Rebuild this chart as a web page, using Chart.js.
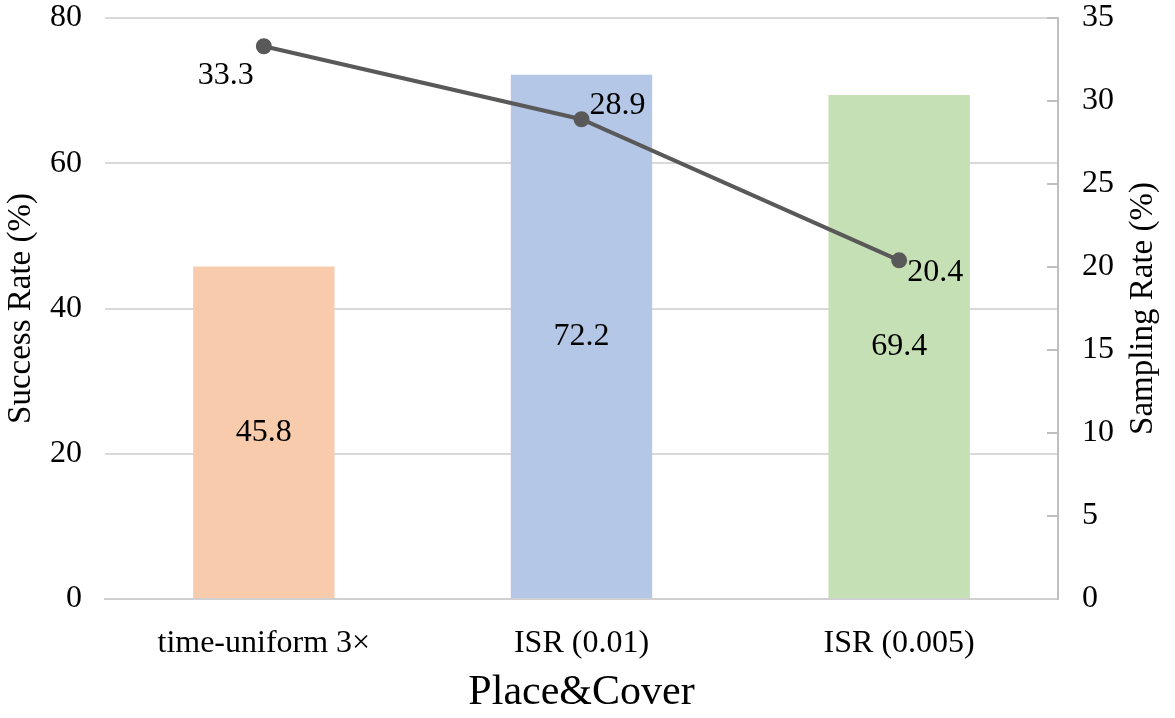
<!DOCTYPE html>
<html>
<head>
<meta charset="utf-8">
<script src="https://cdn.jsdelivr.net/npm/chart.js@4/dist/chart.umd.min.js"></script>
<style>
  html, body { margin: 0; padding: 0; background: #fff; }
  #wrap { width: 1175px; height: 718px; }
</style>
</head>
<body>
<div id="wrap"><canvas id="myChart" width="1175" height="718"></canvas></div>
<script>
// data
const categories = ['time-uniform 3\u00d7', 'ISR (0.01)', 'ISR (0.005)'];
const successRate = [45.8, 72.2, 69.4];
const samplingRate = [33.3, 28.9, 20.4];
const leftTicks = [0, 20, 40, 60, 80];
const rightTicks = [0, 5, 10, 15, 20, 25, 30, 35];

const barColors = ['#F8CBAD', '#B4C7E7', '#C5E0B4'];
const lineColor = '#595959';
const FONT = '"Liberation Serif", "Times New Roman", serif';

// where each line label sits relative to its point (dx, dy, align)
const lineLabelPos = [
  { dx: -38, dy: 29, align: 'center' },
  { dx: 8, dy: -14, align: 'left' },
  { dx: 8, dy: 12, align: 'left' }
];

const valueLabels = {
  id: 'valueLabels',
  afterDatasetsDraw: function (chart) {
    const ctx = chart.ctx;
    ctx.save();
    ctx.fillStyle = '#000';
    ctx.font = '32px ' + FONT;
    ctx.textBaseline = 'middle';

    // bar labels, centred in the bar
    chart.getDatasetMeta(0).data.forEach(function (bar, i) {
      ctx.textAlign = 'center';
      ctx.fillText(successRate[i].toFixed(1), bar.x, (bar.y + bar.base) / 2);
    });

    // line labels
    chart.getDatasetMeta(1).data.forEach(function (pt, i) {
      const p = lineLabelPos[i];
      ctx.textAlign = p.align;
      ctx.fillText(samplingRate[i].toFixed(1), pt.x + p.dx, pt.y + p.dy);
    });

    // right axis title, reading bottom to top like the left one
    const area = chart.chartArea;
    ctx.translate(1143, (area.top + area.bottom) / 2);
    ctx.rotate(-Math.PI / 2);
    ctx.textAlign = 'center';
    ctx.font = '33px ' + FONT;
    ctx.fillText('Sampling Rate (%)', 0, 0);
    ctx.restore();
  }
};

// keep the plot top where the reference has it
function fixPad(scale) {
  scale.paddingTop = 18;
  scale.paddingBottom = 0;
}

const data = {
  labels: categories,
  datasets: [{
    type: 'bar',
    label: 'Success Rate',
    data: successRate,
    yAxisID: 'y',
    backgroundColor: barColors,
    barPercentage: 0.445,
    categoryPercentage: 1,
    order: 1
  }, {
    type: 'line',
    label: 'Sampling Rate',
    data: samplingRate,
    yAxisID: 'y1',
    borderColor: lineColor,
    backgroundColor: lineColor,
    borderWidth: 4,
    pointRadius: 6,
    pointHoverRadius: 6,
    order: 0
  }]
};

const config = {
  data: data,
  options: {
    responsive: false,
    animation: false,
    events: [],
    layout: { padding: 0 },
    plugins: {
      legend: { display: false },
      tooltip: { enabled: false }
    },
    scales: {
      x: {
        grid: { display: false },
        border: { display: true, color: '#D0D0D0', width: 2 },
        ticks: { color: '#000', font: { family: FONT, size: 32 }, padding: 17 },
        title: {
          display: true,
          text: 'Place&Cover',
          color: '#000',
          font: { family: FONT, size: 42 },
          padding: { top: 0, bottom: 0 }
        },
        afterFit: function (scale) {
          scale.height = 119;
          scale.paddingLeft = 0;
          scale.paddingRight = 0;
        }
      },
      y: {
        position: 'left',
        min: 0,
        max: 80,
        afterBuildTicks: function (scale) {
          scale.ticks = leftTicks.map(function (v) { return { value: v }; });
        },
        grid: { color: '#D9D9D9', lineWidth: 2, drawTicks: false },
        border: { display: false },
        ticks: { color: '#000', font: { family: FONT, size: 32 }, padding: 23 },
        title: {
          display: true,
          text: 'Success Rate (%)',
          color: '#000',
          font: { family: FONT, size: 33 },
          padding: { top: 2, bottom: 0 }
        },
        afterFit: function (scale) {
          scale.width = 105;
          fixPad(scale);
        }
      },
      y1: {
        position: 'right',
        min: 0,
        max: 35,
        afterBuildTicks: function (scale) {
          scale.ticks = rightTicks.map(function (v) { return { value: v }; });
        },
        grid: {
          drawOnChartArea: false,
          drawTicks: true,
          tickLength: -11,
          tickColor: '#BFBFBF',
          lineWidth: 2
        },
        border: { display: true, color: '#BFBFBF', width: 2 },
        ticks: { color: '#000', font: { family: FONT, size: 32 }, padding: 35 },
        title: { display: false },
        afterFit: function (scale) {
          scale.width = 117;
          fixPad(scale);
        }
      }
    }
  },
  plugins: [valueLabels]
};

const myChart = new Chart(document.getElementById('myChart'), config);
</script>
</body>
</html>
